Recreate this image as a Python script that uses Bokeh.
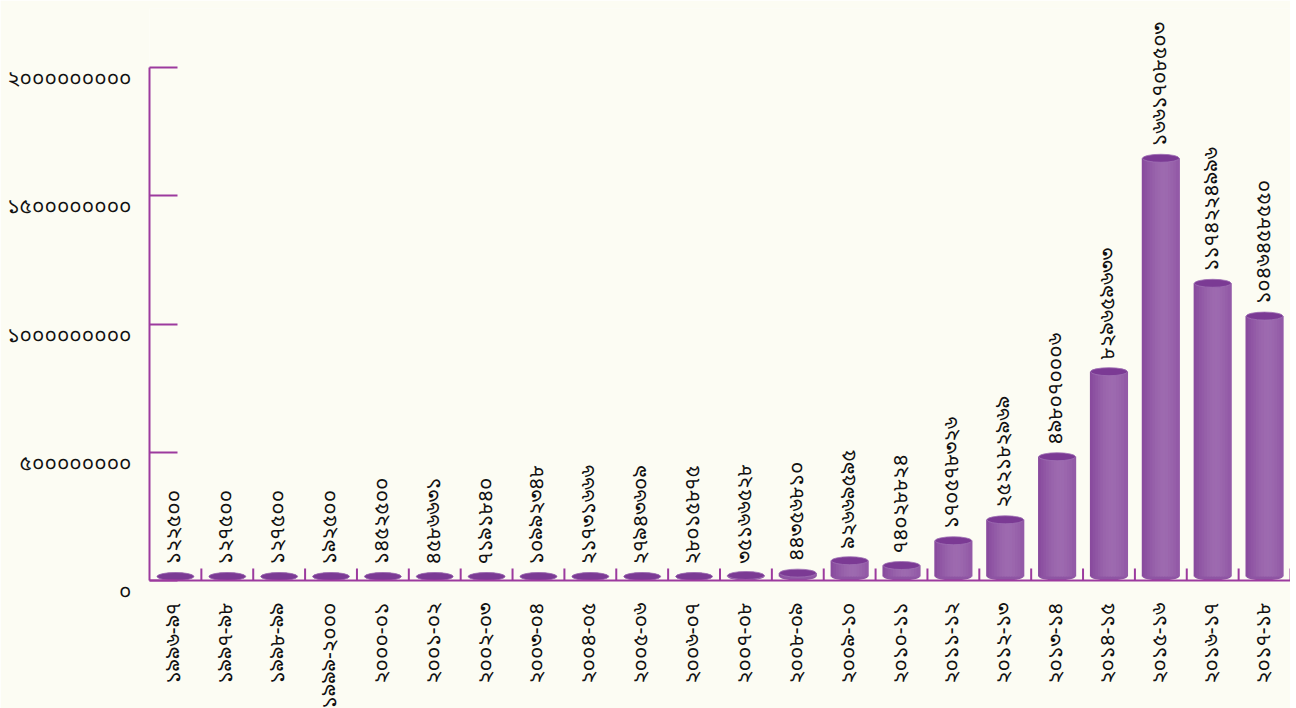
import math
from bokeh.plotting import figure
from bokeh.models import ColumnDataSource, FixedTicker, FactorRange, Range1d
from bokeh.core.properties import value
from bokeh.embed import file_html
from bokeh.resources import INLINE

# ---------------- data ----------------
categories = ["1996-97", "1997-98", "1998-99", "1999-2000", "2000-01", "2001-02",
              "2002-03", "2003-04", "2004-05", "2005-06", "2006-07", "2007-08",
              "2008-09", "2009-10", "2010-11", "2011-12", "2012-13", "2013-14",
              "2014-15", "2015-16", "2016-17", "2017-18"]
amounts = [122500, 127500, 127500, 192500, 1452500, 4586631,
           7191840, 10992348, 21731666, 27943609, 28015875, 35166528,
           44356810, 92669595, 74028824, 170578326, 252182969, 498070006,
           829659633, 1661708503, 1174224996, 1046458550]
y_ticks = [0, 500000000, 1000000000, 1500000000, 2000000000]

BN = str.maketrans("0123456789", "০১২৩৪৫৬৭৮৯")
def bn(s):
    return str(s).translate(BN)

FONT_NAME = "Noto Sans Bengali, Noto Serif Bengali, Lohit Bengali, FreeSerif, serif"
FONT = value(FONT_NAME)
PURPLE = "#9C3A9E"
BG = "#FCFCF3"
FS = "21px"

FRAME_W, FRAME_H = 1141, 572
Y_END = 2000000000 * FRAME_H / 513
DPP = Y_END / FRAME_H  # data units per pixel
ELL_PX = 8
BAR_W = 0.71

factors = [bn(c) for c in categories]

p = figure(x_range=FactorRange(*factors, range_padding=0),
           y_range=Range1d(0, Y_END),
           width=1296, height=704, output_backend="svg", toolbar_location=None,
           min_border_left=149, min_border_right=0, min_border_top=8,
           min_border_bottom=124)
p.frame_width = FRAME_W
p.frame_height = FRAME_H
p.background_fill_color = BG
p.border_fill_color = BG
p.outline_line_color = None
p.grid.grid_line_color = None

# ---- cylinder bodies (horizontal shading via strips) ----
N = 14
def shade(t):
    d = min(abs(t - 0.6) / 0.6, 1.0)
    c0 = (0x9E, 0x6B, 0xB0)
    c1 = (0x87, 0x49, 0x9D)
    c = [int(c0[i] + (c1[i] - c0[i]) * d ** 1.5) for i in range(3)]
    return "#%02x%02x%02x" % tuple(c)

half = ELL_PX / 2 * DPP
top_y = [max(v - half, half) for v in amounts]
xs, tops, bots, cols = [], [], [], []
for cat, ty in zip(factors, top_y):
    for k in range(N):
        t = (k + 0.5) / N
        off = -BAR_W / 2 + t * BAR_W
        xs.append((cat, off))
        tops.append(ty)
        bots.append(half)
        cols.append(shade(t))
body = ColumnDataSource(dict(x=xs, top=tops, bottom=bots, color=cols))

bottom_src = ColumnDataSource(dict(x=factors, y=[half] * len(factors)))
p.ellipse(x="x", y="y", width=BAR_W, height=ELL_PX, height_units="screen",
          source=bottom_src, fill_color="#8E55A3", line_color=None)
p.vbar(x="x", top="top", bottom="bottom", width=BAR_W / N * 1.5, source=body,
       fill_color="color", line_color=None)

top_src = ColumnDataSource(dict(x=factors, y=top_y,
                                lab=[bn(v) for v in amounts]))
p.ellipse(x="x", y="y", width=BAR_W, height=ELL_PX, height_units="screen",
          source=top_src, fill_color="#7B3A94", line_color="#A070B4", line_width=0.8)

p.text(x="x", y="y", text="lab", source=top_src, angle=math.pi / 2,
       text_align="left", text_baseline="middle", y_offset=-12,
       text_font=FONT, text_font_size=FS, text_color="#111111")

tick_src = ColumnDataSource(dict(x=[(c, 0.5) for c in factors],
                                 y0=[0] * len(factors),
                                 y1=[12 * DPP] * len(factors)))
p.segment(x0="x", x1="x", y0="y0", y1="y1", source=tick_src,
          line_color=PURPLE, line_width=2)

ya = p.yaxis[0]
ya.ticker = FixedTicker(ticks=y_ticks)
ya.bounds = (0, 2000000000)
# leading blank line drops each tick label a little below its tick, as in the original
ya.major_label_overrides = {t: "\n" + bn(t) for t in y_ticks}
ya.axis_line_color = PURPLE
ya.axis_line_width = 2
ya.major_tick_line_color = PURPLE
ya.major_tick_line_width = 2
ya.major_tick_in = 28
ya.major_tick_out = 0
ya.minor_tick_line_color = None
ya.major_label_standoff = 18
ya.major_label_text_font = FONT_NAME
ya.major_label_text_font_size = FS
ya.major_label_text_line_height = 0.9
ya.major_label_text_color = "#111111"

xa = p.xaxis[0]
xa.axis_line_color = PURPLE
xa.axis_line_width = 2
xa.major_tick_line_color = None
xa.major_label_orientation = math.pi / 2
xa.major_label_standoff = 16
xa.major_label_text_font = FONT_NAME
xa.major_label_text_font_size = FS
xa.major_label_text_color = "#111111"

open("out.html", "w").write(file_html(p, INLINE))
